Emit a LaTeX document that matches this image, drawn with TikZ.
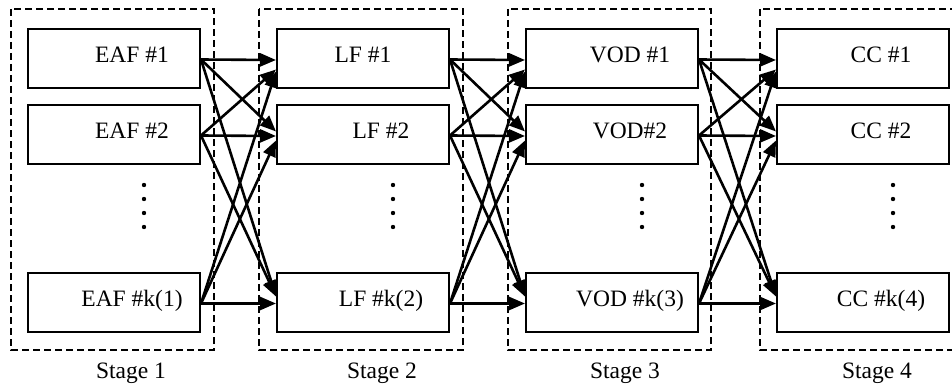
\documentclass[tikz,border=0pt]{standalone}
\usepackage{fontspec}
\setmainfont{Liberation Serif}
\usetikzlibrary{arrows.meta}
\begin{document}
\begin{tikzpicture}[x=1pt,y=-1pt,
  stagebox/.style={draw, dash pattern=on 7pt off 4pt, line width=1.6pt},
  unitbox/.style={draw, line width=2pt, minimum width=172pt, minimum height=59pt, inner sep=0pt},
  boxtext/.style={font=\fontsize{23.5}{27}\selectfont, anchor=base, inner sep=0pt},
  conn/.style={line width=2.6pt, -{Triangle[length=16pt,width=13pt]}},
  stagelabel/.style={font=\fontsize{23.5}{27}\selectfont, anchor=base, inner sep=0pt},
]
\useasboundingbox (0,0) rectangle (952,385);
\clip (0,0) rectangle (952,385);

% stage frames
\draw[stagebox] (11,9) rectangle (214,350);
\draw[stagebox] (259,9) rectangle (463,350);
\draw[stagebox] (508,9) rectangle (711,350);
\draw[stagebox] (760,9) rectangle (963,350);

% boxes
\node[unitbox] (a1) at (114,58.5) {};
\node[unitbox] (a2) at (114,134.5) {};
\node[unitbox] (a3) at (114,302.5) {};
\node[unitbox] (b1) at (363,58.5) {};
\node[unitbox] (b2) at (363,134.5) {};
\node[unitbox] (b3) at (363,302.5) {};
\node[unitbox] (c1) at (612,58.5) {};
\node[unitbox] (c2) at (612,134.5) {};
\node[unitbox] (c3) at (612,302.5) {};
\node[unitbox] (d1) at (863,58.5) {};
\node[unitbox] (d2) at (863,134.5) {};
\node[unitbox] (d3) at (863,302.5) {};

% box texts
\node[boxtext] (a1t) at ([xshift=18pt,yshift=-4pt]a1.center) {EAF \#1};
\node[boxtext] (a2t) at ([xshift=18pt,yshift=-4pt]a2.center) {EAF \#2};
\node[boxtext] (a3t) at ([xshift=18pt,yshift=-4pt]a3.center) {EAF \#k(1)};
\node[boxtext] (b1t) at ([xshift=0pt,yshift=-4pt]b1.center) {LF \#1};
\node[boxtext] (b2t) at ([xshift=18pt,yshift=-4pt]b2.center) {LF \#2};
\node[boxtext] (b3t) at ([xshift=18pt,yshift=-4pt]b3.center) {LF \#k(2)};
\node[boxtext] (c1t) at ([xshift=18pt,yshift=-4pt]c1.center) {VOD \#1};
\node[boxtext] (c2t) at ([xshift=18pt,yshift=-4pt]c2.center) {VOD\#2};
\node[boxtext] (c3t) at ([xshift=18pt,yshift=-4pt]c3.center) {VOD \#k(3)};
\node[boxtext] (d1t) at ([xshift=18pt,yshift=-4pt]d1.center) {CC \#1};
\node[boxtext] (d2t) at ([xshift=18pt,yshift=-4pt]d2.center) {CC \#2};
\node[boxtext] (d3t) at ([xshift=18pt,yshift=-4pt]d3.center) {CC \#k(4)};

% vertical dots
\foreach \x in {144,393,642,893}{
  \foreach \y in {185,199,213,227}{
    \fill (\x,\y) circle (2.2pt);
  }
}

% connectors
\foreach \s/\t in {a/b,b/c,c/d}{
  \draw[conn] ([yshift=-1pt]\s1.east) -- ([yshift=-1.5pt]\t1.west);
  \draw[conn] ([yshift=-1pt]\s2.east) -- ([yshift=-11pt]\t1.west);
  \draw[conn] ([yshift=-1pt]\s3.east) -- ([yshift=-13pt]\t1.west);
  \draw[conn] ([yshift=-1pt]\s1.east) -- ([yshift=3pt]\t2.west);
  \draw[conn] ([yshift=-1pt]\s2.east) -- ([yshift=-1.5pt]\t2.west);
  \draw[conn] ([yshift=-1pt]\s3.east) -- ([yshift=-6pt]\t2.west);
  \draw[conn] ([yshift=-1pt]\s1.east) -- ([yshift=6pt]\t3.west);
  \draw[conn] ([yshift=-1pt]\s2.east) -- ([yshift=6pt]\t3.west);
  \draw[conn] ([yshift=-1pt]\s3.east) -- ([yshift=-1pt]\t3.west);
}

% stage labels
\node[stagelabel] (s1) at (131,378) {Stage 1};
\node[stagelabel] (s2) at (382,378) {Stage 2};
\node[stagelabel] (s3) at (625,378) {Stage 3};
\node[stagelabel] (s4) at (877,378) {Stage 4};
\end{tikzpicture}
\end{document}
